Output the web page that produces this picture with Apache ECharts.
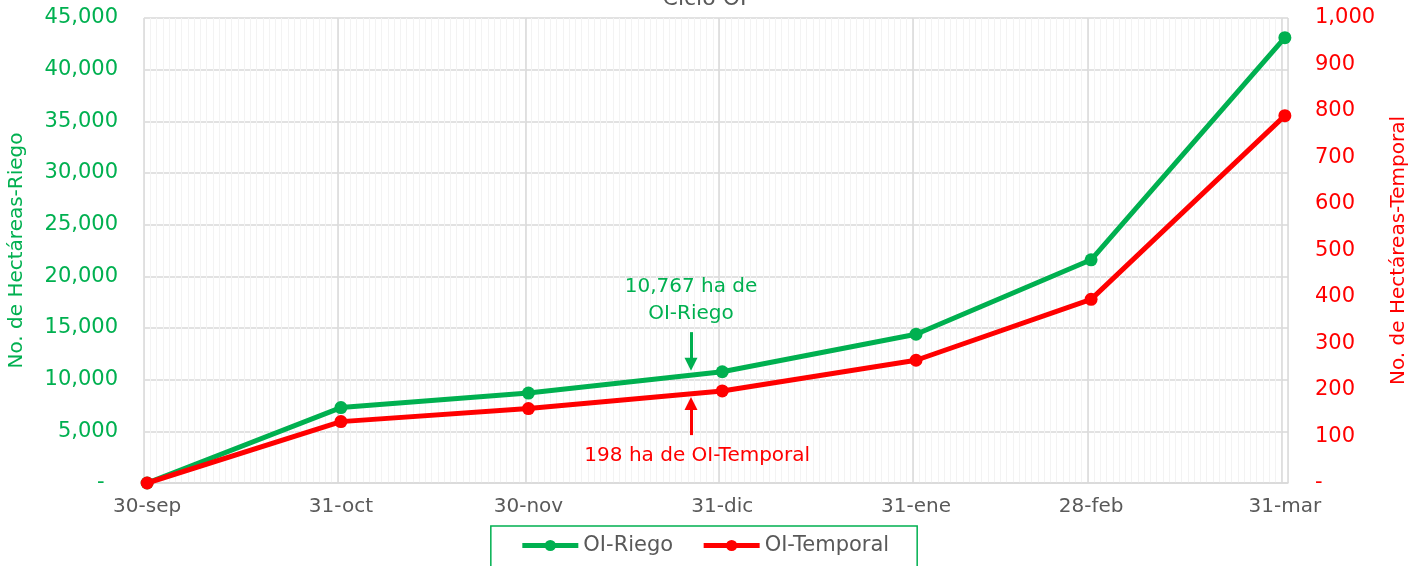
<!DOCTYPE html>
<html>
<head>
<meta charset="utf-8">
<script src="https://cdn.jsdelivr.net/npm/echarts@6/dist/echarts.min.js"></script>
<style>
html, body { margin: 0; padding: 0; background: #fff; }
#chart { width: 1409px; height: 566px; }
</style>
</head>
<body>
<div id="chart"></div>
<script>
// datos del ciclo OI
const fechas = ['30-sep', '31-oct', '30-nov', '31-dic', '31-ene', '28-feb', '31-mar'];
const riego = [0, 7300, 8700, 10767, 14400, 21600, 43100];
const temporal = [0, 132, 160, 198, 264, 395, 790];
const meses = ['ene', 'feb', 'mar', 'abr', 'may', 'jun', 'jul', 'ago', 'sep', 'oct', 'nov', 'dic'];

const verde = '#00b050';
const rojo = '#ff0000';
const gris = '#595959';
const fuente = 'DejaVu Sans';

// un dia por categoria, del 30-sep al 31-mar
let dias = [];
let d = new Date(Date.UTC(2022, 8, 30));
const fin = new Date(Date.UTC(2023, 2, 31));
while (d <= fin) {
  dias.push(d.getUTCDate() + '-' + meses[d.getUTCMonth()]);
  d = new Date(d.getTime() + 86400000);
}
const esMayor = (i, v) => fechas.indexOf(v) >= 0;

const miles = v => v === 0 ? '-' : v.toLocaleString('en-US');

let chart = echarts.init(document.getElementById('chart'));
let option = {
  animation: false,
  title: {
    text: 'Ciclo OI',
    left: 'center',
    top: -17,
    textStyle: { fontFamily: fuente, fontSize: 22, fontWeight: 'normal', color: gris }
  },
  grid: { left: 144, right: 121, top: 18, bottom: 83, outerBoundsMode: 'none', containLabel: false },
  legend: {
    top: 526,
    left: 'center',
    padding: [9, 28, 14, 29],
    borderColor: verde,
    borderWidth: 1.5,
    itemWidth: 56,
    itemHeight: 14,
    itemGap: 28,
    lineStyle: { width: 5 },
    textStyle: { fontFamily: fuente, fontSize: 21, color: gris },
    data: ['OI-Riego', 'OI-Temporal']
  },
  xAxis: [
    {
      type: 'category',
      data: dias,
      boundaryGap: true,
      axisLine: { lineStyle: { color: '#d9d9d9', width: 1.5 } },
      axisTick: { interval: esMayor, length: 6, lineStyle: { color: '#d9d9d9', width: 1.5 } },
      axisLabel: { interval: esMayor, margin: 14, fontFamily: fuente, fontSize: 20, color: gris },
      splitLine: { show: true, interval: 0, lineStyle: { color: '#f3f3f3', width: 1 } }
    },
    {
      type: 'category',
      data: dias,
      boundaryGap: true,
      position: 'bottom',
      axisLine: { show: false },
      axisTick: { show: false },
      axisLabel: { show: false },
      splitLine: { show: true, interval: esMayor, lineStyle: { color: '#d9d9d9', width: 1.5 } }
    }
  ],
  yAxis: [
    {
      type: 'value',
      min: 0, max: 45000, interval: 5000,
      name: 'No. de Hectáreas-Riego',
      nameLocation: 'middle',
      nameRotate: 90,
      nameGap: 117,
      nameTextStyle: { fontFamily: fuente, fontSize: 20, color: verde },
      axisLine: { show: false },
      axisTick: { show: false },
      axisLabel: {
        margin: 26, fontFamily: fuente, fontSize: 21, color: verde,
        formatter: v => v === 0 ? '-  ' : miles(v)
      },
      splitLine: { lineStyle: { color: '#d9d9d9', width: 1.5 } }
    },
    {
      type: 'value',
      min: 0, max: 1000, interval: 100,
      name: 'No. de Hectáreas-Temporal',
      nameLocation: 'middle',
      nameRotate: 90,
      nameGap: 101,
      nameTextStyle: { fontFamily: fuente, fontSize: 20, color: rojo },
      axisLine: { show: false },
      axisTick: { show: false },
      axisLabel: { margin: 27, fontFamily: fuente, fontSize: 21, color: rojo, formatter: miles },
      splitLine: { show: false }
    }
  ],
  series: [
    {
      name: 'OI-Riego',
      type: 'line',
      yAxisIndex: 0,
      data: fechas.map((f, i) => [f, riego[i]]),
      symbol: 'circle',
      symbolSize: 13,
      color: verde,
      lineStyle: { width: 5, color: verde },
      z: 4,
      markLine: {
        silent: true,
        symbol: ['none', 'triangle'],
        symbolSize: 13,
        label: { show: false },
        lineStyle: { color: verde, width: 3, type: 'solid' },
        data: [[{ coord: ['26-dic', 14600] }, { coord: ['26-dic', 11500] }]]
      },
      markPoint: {
        silent: true,
        symbol: 'rect',
        symbolSize: 1,
        itemStyle: { color: 'transparent' },
        label: {
          show: true, position: 'inside', fontFamily: fuente, fontSize: 20,
          lineHeight: 27, color: verde, formatter: '10,767 ha de\nOI-Riego'
        },
        data: [{ coord: ['26-dic', 17660] }]
      }
    },
    {
      name: 'OI-Temporal',
      type: 'line',
      yAxisIndex: 1,
      data: fechas.map((f, i) => [f, temporal[i]]),
      symbol: 'circle',
      symbolSize: 13,
      color: rojo,
      lineStyle: { width: 5, color: rojo },
      z: 5,
      markLine: {
        silent: true,
        symbol: ['none', 'triangle'],
        symbolSize: 13,
        label: { show: false },
        lineStyle: { color: rojo, width: 3, type: 'solid' },
        data: [[{ coord: ['26-dic', 103] }, { coord: ['26-dic', 171] }]]
      },
      markPoint: {
        silent: true,
        symbol: 'rect',
        symbolSize: 1,
        itemStyle: { color: 'transparent' },
        label: {
          show: true, position: 'inside', fontFamily: fuente, fontSize: 20,
          color: rojo, formatter: '198 ha de OI-Temporal'
        },
        data: [{ coord: ['27-dic', 58] }]
      }
    }
  ]
};
chart.setOption(option);
</script>
</body>
</html>
